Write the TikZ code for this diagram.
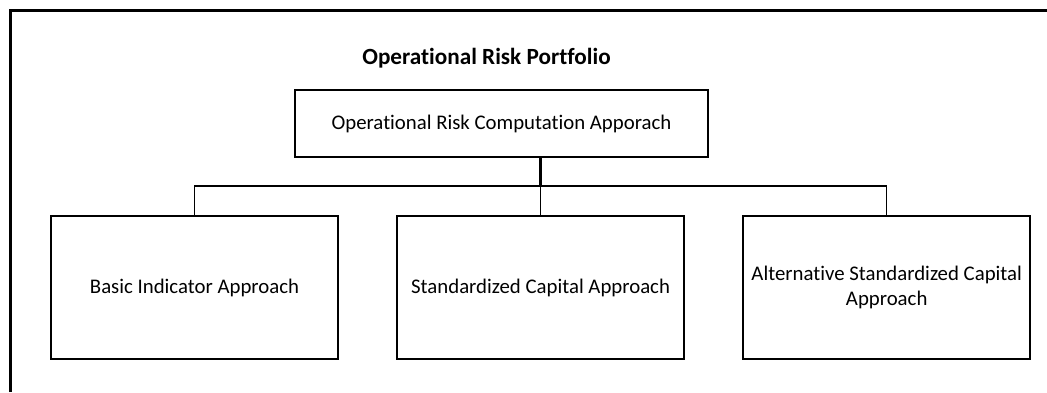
\documentclass[tikz,border=0pt]{standalone}
\usepackage{fontspec}
\setmainfont[RawFeature={-liga;-clig;-calt}]{Carlito}
\usetikzlibrary{positioning,calc}

\begin{document}
\begin{tikzpicture}[x=1pt, y=-1pt, font=\fontsize{20.8}{25}\selectfont,
    approach/.style={draw, line width=1.6pt, minimum width=287pt, minimum height=143pt, align=center, inner sep=2pt},
    link/.style={line width=1.2pt}]

    % Canvas and frame
    \useasboundingbox (0,0) rectangle (1047,392);
    \draw[line width=3pt] (10,392) -- (10,10) -- (1047,10);

    % Title
    \node[font=\fontsize{23.2}{27}\selectfont\bfseries] (title) at (486.5,58) {Operational Risk Portfolio};

    % Computation box
    \node[draw, line width=1.6pt, minimum width=413pt, minimum height=67pt] (comp) at (501.5,123.5) {Operational Risk Computation Apporach};

    % Approaches
    \node[approach] (basic) at (194.5,287.5) {Basic Indicator Approach};
    \node[approach, right=57.5pt of basic] (std) {Standardized Capital Approach};
    \node[approach, right=57.5pt of std] (alt) {Alternative Standardized Capital\\Approach};

    % Tree links
    \coordinate (bus) at (540,186);
    \draw[line width=2.4pt] (comp.south -| std.north) -- (bus -| std.north);
    \draw[link] (basic.north) -- (bus -| basic.north) -- (bus -| alt.north) -- (alt.north);
    \draw[link] (bus -| std.north) -- (std.north);

\end{tikzpicture}
\end{document}
